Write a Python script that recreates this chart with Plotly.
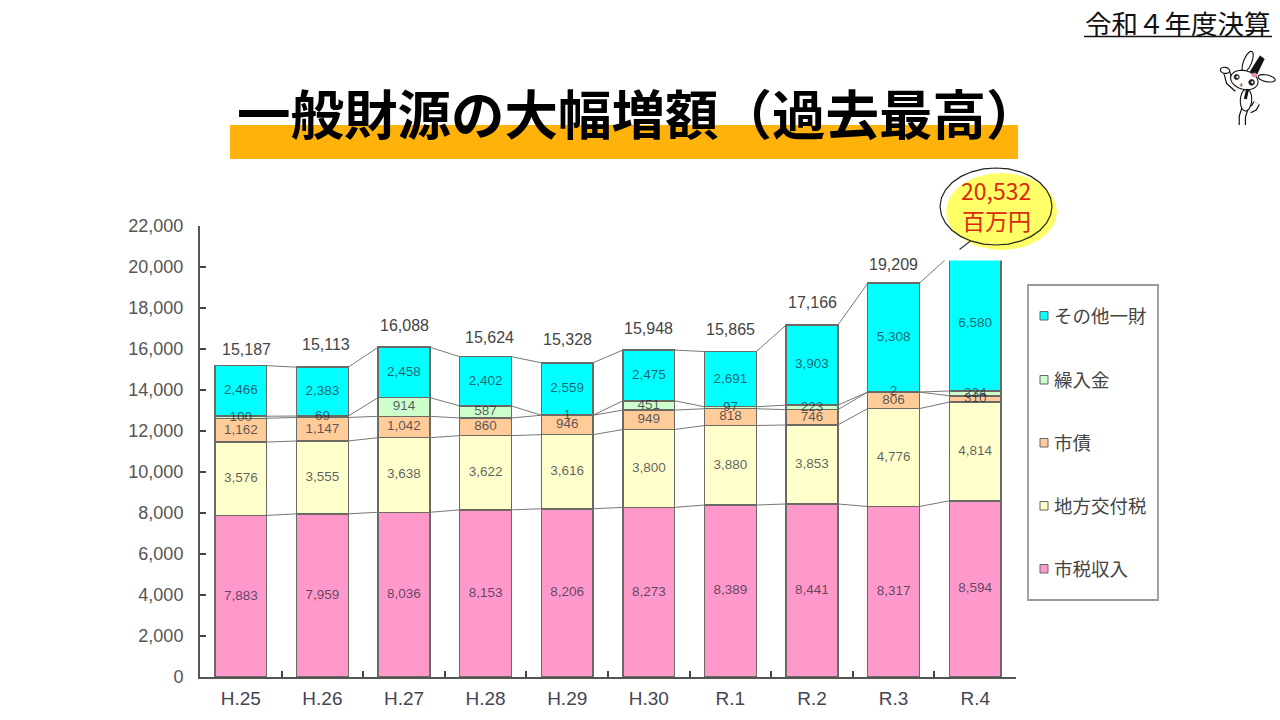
import math
import numpy as np
import plotly.graph_objects as go

# ---- data ----
years = ["H.25", "H.26", "H.27", "H.28", "H.29", "H.30", "R.1", "R.2", "R.3", "R.4"]
city_tax = [7883, 7959, 8036, 8153, 8206, 8273, 8389, 8441, 8317, 8594]
grants = [3576, 3555, 3638, 3622, 3616, 3800, 3880, 3853, 4776, 4814]
bonds = [1162, 1147, 1042, 860, 946, 949, 818, 746, 806, 310]
transfers = [100, 69, 914, 587, 1, 451, 97, 223, 2, 234]
other = [2466, 2383, 2458, 2402, 2559, 2475, 2691, 3903, 5308, 6580]
totals = [15187, 15113, 16088, 15624, 15328, 15948, 15865, 17166, 19209, 20532]
series_names = ["市税収入", "地方交付税", "市債", "繰入金", "その他一財"]
y_ticks = list(range(0, 22001, 2000))

# ---- style ----
colors = ["#FF99CC", "#FFFFCC", "#FFCC99", "#CCFFCC", "#00FFFF"]
JP = "Noto Sans CJK JP"
LAT = "Liberation Sans"
BAR_W = 0.634
total_lift = [16, 23, 22, 19, 23, 22, 22, 23, 19]   # px above each bar, R.4's is hidden by the callout
total_nudge = [6, 4, 0, 4, 0, 0, 0, 0, 0]           # px to the right of the bar centre
W, H = 1280, 720


def X(p):
    return p / W


def Y(p):
    return 1 - p / H


def path_of(pts, close=True):
    s = "M " + " L ".join(f"{X(a):.5f},{Y(b):.5f}" for a, b in pts)
    return s + (" Z" if close else "")


def ellipse(cx, cy, rx, ry, rot=0):
    t = math.radians(rot)
    pts = []
    for k in range(28):
        a = 2 * math.pi * k / 28
        u, v = rx * math.cos(a), ry * math.sin(a)
        pts.append((cx + u * math.cos(t) - v * math.sin(t), cy + u * math.sin(t) + v * math.cos(t)))
    return path_of(pts)


def page_shape(path, fill=None, line=None, width=0):
    d = dict(type="path", xref="paper", yref="paper", path=path, layer="above",
             line=dict(width=width, color=line or "rgba(0,0,0,0)"))
    if fill:
        d["fillcolor"] = fill
    return d


def page_rect(x0, y0, x1, y1, fill=None, line=None, width=0):
    d = dict(type="rect", xref="paper", yref="paper", x0=X(x0), x1=X(x1), y0=Y(y1), y1=Y(y0),
             layer="above", line=dict(width=width, color=line or "rgba(0,0,0,0)"))
    if fill:
        d["fillcolor"] = fill
    return d


def page_text(x, y, text, size, color="#000", family=JP, anchor="left"):
    return dict(xref="paper", yref="paper", x=X(x), y=Y(y), text=text, showarrow=False,
                xanchor=anchor, yanchor="middle", borderpad=0,
                font=dict(size=size, color=color, family=family))


fig = go.Figure()
pos = np.arange(len(years))
stack = [city_tax, grants, bonds, transfers, other]
cum = np.cumsum(np.array(stack), axis=0)

for name, vals, col in zip(series_names, stack, colors):
    fig.add_trace(go.Bar(x=pos, y=vals, name=name, marker=dict(color=col, line=dict(color="#6a6a62", width=1.5)),
                         width=BAR_W, showlegend=False, hoverinfo="skip"))

# series connectors between neighbouring bars
for row in cum:
    xs, ys = [], []
    for i in range(len(years) - 1):
        xs += [pos[i] + BAR_W / 2, pos[i + 1] - BAR_W / 2, None]
        ys += [row[i], row[i + 1], None]
    fig.add_trace(go.Scatter(x=xs, y=ys, mode="lines", line=dict(color="#777", width=1),
                             showlegend=False, hoverinfo="skip"))

# value labels in the middle of each band
for i, vals in enumerate(stack):
    base = cum[i] - np.array(vals) / 2
    fig.add_trace(go.Scatter(x=pos, y=base, mode="text", text=[f"{v:,}" for v in vals],
                             textposition="middle center", cliponaxis=False, showlegend=False, hoverinfo="skip",
                             textfont=dict(size=13.5, family=LAT, color="rgba(35,35,55,0.72)")))

ann = []
for i, (lift, nudge) in enumerate(zip(total_lift, total_nudge)):
    ann.append(dict(x=pos[i], y=totals[i], xref="x", yref="y", text=f"{totals[i]:,}", showarrow=False,
                    yshift=lift, xshift=nudge, yanchor="middle", font=dict(size=16, family=LAT, color="#444")))

shapes = []
# title band and header
shapes.append(page_rect(230, 125, 1018, 159, fill="#FFB30A"))
shapes.append(dict(type="line", xref="paper", yref="paper", x0=X(1084), x1=X(1272), y0=Y(36.5), y1=Y(36.5),
                   layer="above", line=dict(color="#111", width=1.3)))
ann.append(page_text(638, 111, "<b>一般財源の大幅増額（過去最高）</b>", 53.5, anchor="center"))
ann.append(page_text(1178, 22, "令和４年度決算", 26.5, color="#111", anchor="center"))

# bar top hidden by the callout
shapes.append(page_rect(921, 200, 1020, 260.5, fill="#FFFFFF"))
# callout
shapes.append(page_shape(ellipse(1001.5, 211.5, 55.5, 38.5), fill="#FFFF66"))
shapes.append(page_shape(ellipse(996, 206.5, 56, 38.5), line="#222", width=1.2))
shapes.append(page_shape(path_of([(959.5, 249.5), (970.5, 241)], close=False), line="#333", width=1.2))
ann.append(page_text(996, 190, "20,532", 23, color="#D92B10", anchor="center"))
ann.append(page_text(996, 220, "百万円", 23, color="#D92B10", anchor="center"))

# legend
shapes.append(page_rect(1028, 285, 1158, 600, fill="#FFFFFF", line="#999", width=1.8))
legend_y = [315, 379, 442, 505, 568]
for name, col, ly in zip(reversed(series_names), reversed(colors), legend_y):
    shapes.append(page_rect(1040, ly - 3.5, 1048, ly + 5, fill=col, line="#666", width=1))
    ann.append(page_text(1052.5, ly, name, 18.5, color="#444"))


# mascot
def rx(a):
    return 1210 + a / 3


def ry(b):
    return 45 + b / 3


def m_ell(cx, cy, a, b, rot=0, fill="#FFFFFF", line="#111", width=1.1):
    shapes.append(page_shape(ellipse(rx(cx), ry(cy), a / 3, b / 3, rot), fill=fill, line=line, width=width))


def m_limb(pts, w):
    p = path_of([(rx(a), ry(b)) for a, b in pts], close=False)
    shapes.append(page_shape(p, line="#111", width=w + 2.4))
    shapes.append(page_shape(p, line="#FFFFFF", width=w))


m_ell(113, 50, 12, 33, 22)
m_ell(170, 100, 26, 10, 12)
m_limb([(50, 80), (58, 110), (82, 132)], 5)
m_ell(45, 76, 14, 9, 10)
m_limb([(105, 190), (97, 215), (97, 240)], 5)
m_limb([(118, 195), (132, 188), (140, 174)], 5)
m_ell(108, 165, 17, 33, 4)
m_ell(103, 105, 42, 28, 15)
shapes.append(page_shape(path_of([(rx(a), ry(b)) for a, b in [(120, 80), (150, 32), (163, 42), (140, 90)]]),
                         fill="#111", line="#111", width=0.5))
m_ell(133, 90, 8, 6, 0, fill="#F08CA0", line="#F08CA0", width=0.5)
m_ell(80, 96, 8, 8, 0, fill="#222", line="#222", width=0.5)
m_ell(125, 112, 9, 9, 0, fill="#222", line="#222", width=0.5)
m_ell(82, 96, 3, 3, 0, fill="#FFFFFF", line="#FFFFFF", width=0.3)
m_ell(127, 112, 3, 3, 0, fill="#FFFFFF", line="#FFFFFF", width=0.3)
m_ell(94, 120, 3, 5, 0, fill="#B06A3A", line="#B06A3A", width=0.3)
shapes.append(page_shape(path_of([(rx(106), ry(162)), (rx(113), ry(132))], close=False), line="#111", width=3))

fig.update_layout(
    barmode="stack", width=W, height=H, autosize=False, margin=dict(l=0, r=0, t=0, b=0, pad=0, autoexpand=False),
    paper_bgcolor="#FFFFFF", plot_bgcolor="#FFFFFF", showlegend=False,
    annotations=ann, shapes=shapes,
    xaxis=dict(domain=[X(200), X(1016)], range=[-0.5, 9.5], tickvals=list(pos), ticktext=years, ticks="",
               showgrid=False, zeroline=False, showline=True, linecolor="#555", linewidth=2,
               ticklabelstandoff=3,
               tickfont=dict(size=19, family=LAT, color="#445"),
               minor=dict(tickvals=[p + 0.5 for p in pos[:-1]], ticks="inside", ticklen=6, tickwidth=2,
                          tickcolor="#444", showgrid=False)),
    yaxis=dict(domain=[Y(677), Y(226)], range=[0, 22000], tickvals=y_ticks, tickformat=",",
               ticks="inside", ticklen=6, tickwidth=2, tickcolor="#444",
               showgrid=False, zeroline=False, showline=True, linecolor="#555", linewidth=2,
               ticklabelstandoff=11,
               tickfont=dict(size=18, family=LAT, color="#555")),
)

fig.write_html("out.html", config=dict(displayModeBar=False),
               post_script="document.body.style.margin='0';document.body.style.overflow='hidden';")
